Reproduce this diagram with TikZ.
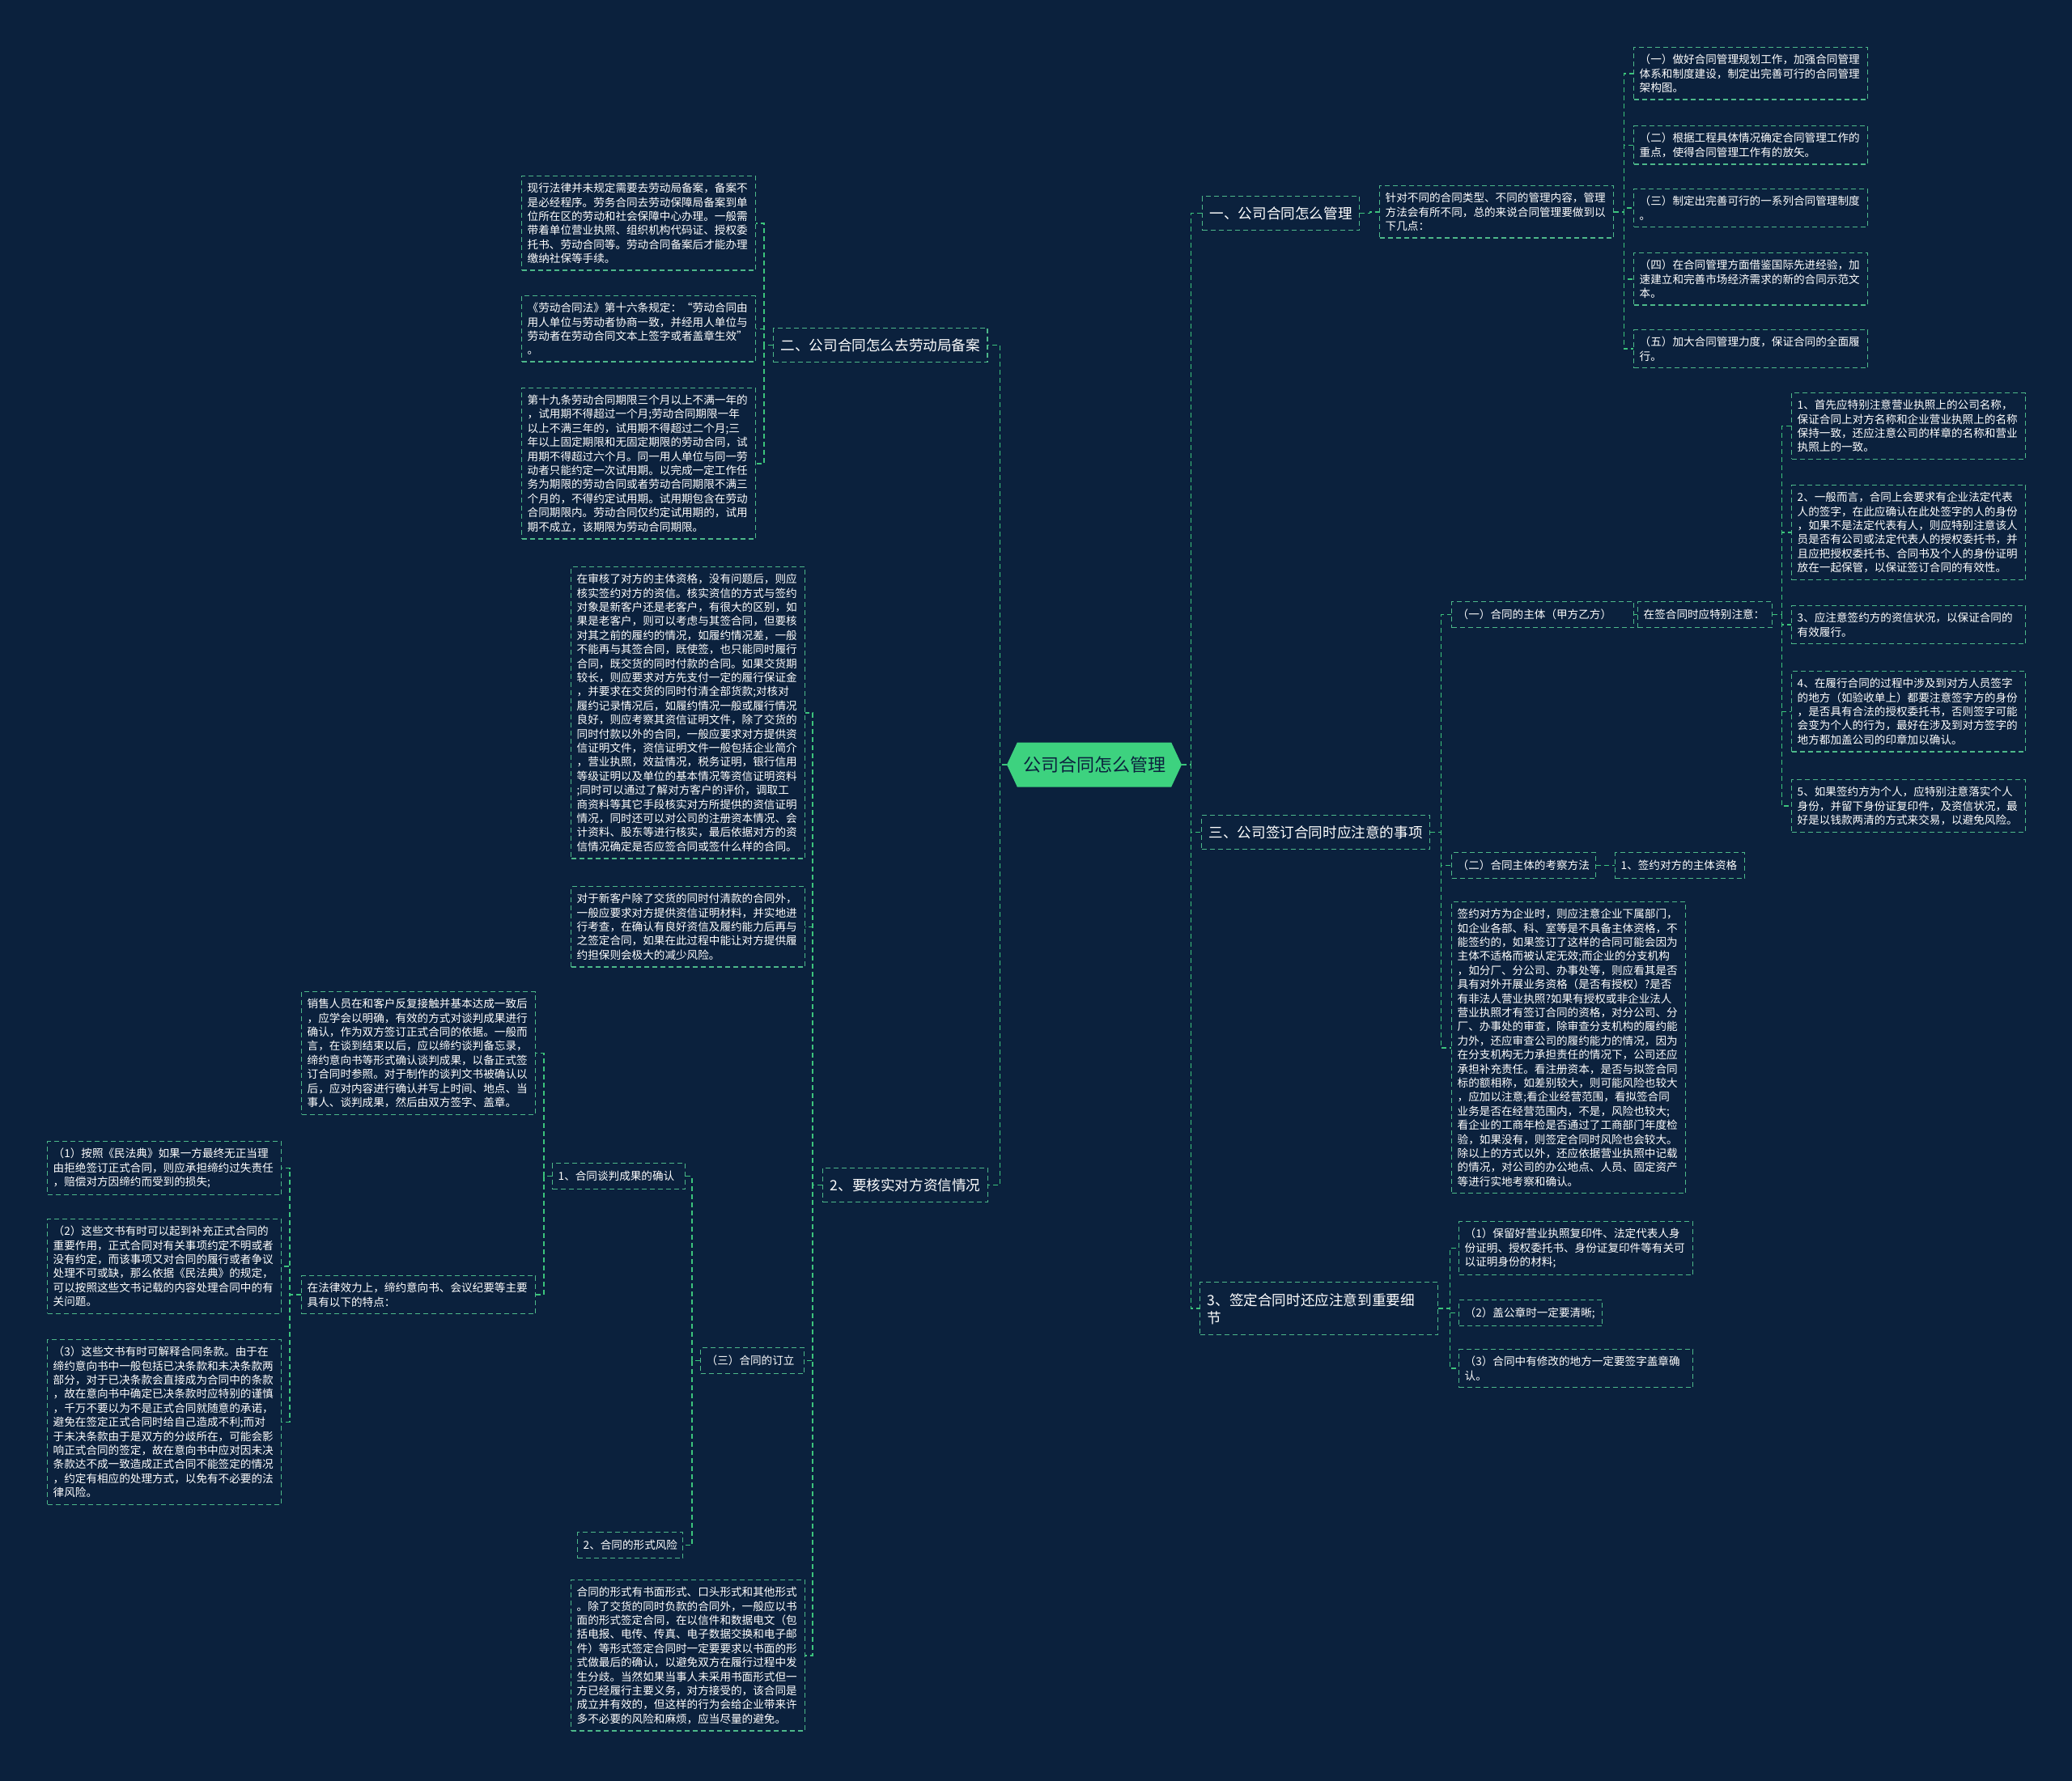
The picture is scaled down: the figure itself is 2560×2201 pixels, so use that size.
\documentclass[tikz,border=0pt]{standalone}
\usepackage{fontspec}
\setmainfont{Noto Sans CJK SC}
\usetikzlibrary{shapes.symbols}
\definecolor{bgnavy}{HTML}{0B213D}
\definecolor{linegreen}{HTML}{3CC47C}
\definecolor{boxgreen}{HTML}{4DB88A}
\definecolor{topicgreen}{HTML}{3DD27F}

\begin{document}
\begin{tikzpicture}[
    x=0.5pt, y=-0.5pt,
    link/.style={draw=linegreen, line width=0.75pt, dash pattern=on 3pt off 2pt},
    topic/.style={signal, signal to=west and east, signal pointer angle=130, fill=topicgreen, text=bgnavy, font=\fontsize{11pt}{13pt}\selectfont, minimum width=108pt, minimum height=27.5pt, inner sep=0pt},
    branch/.style={draw=boxgreen, line width=0.7pt, dash pattern=on 3pt off 2pt, text=white, font=\fontsize{8.8pt}{11pt}\selectfont, anchor=north west, inner xsep=4.5pt, minimum height=21pt, align=left},
    leaf/.style={draw=boxgreen, line width=0.7pt, dash pattern=on 3pt off 2pt, text=white, font=\fontsize{6.8pt}{8.7pt}\selectfont, anchor=north west, text width=137.5pt, align=left, inner xsep=3.5pt, inner ysep=4.2pt},
    tag/.style={draw=boxgreen, line width=0.7pt, dash pattern=on 3pt off 2pt, text=white, font=\fontsize{6.8pt}{8.7pt}\selectfont, anchor=north west, minimum height=16pt, inner xsep=3.5pt, align=left}
]
    \fill[bgnavy] (0,0) rectangle (2560,2201);
    \useasboundingbox (0,0) rectangle (2560,2201);

    \node[topic] (root) at (1352,945) {公司合同怎么管理};

    % right side
    \node[branch] (one) at (1485,242) {一、公司合同怎么管理};
    \node[leaf] (oneNote) at (1704,229) {针对不同的合同类型、不同的管理内容，管理\\方法会有所不同，总的来说合同管理要做到以\\下几点：};
    \node[leaf] (oneA) at (2018,58) {（一）做好合同管理规划工作，加强合同管理\\体系和制度建设，制定出完善可行的合同管理\\架构图。};
    \node[leaf] (oneB) at (2018,155) {（二）根据工程具体情况确定合同管理工作的\\重点，使得合同管理工作有的放矢。};
    \node[leaf] (oneC) at (2018,233) {（三）制定出完善可行的一系列合同管理制度\\。};
    \node[leaf] (oneD) at (2018,312) {（四）在合同管理方面借鉴国际先进经验，加\\速建立和完善市场经济需求的新的合同示范文\\本。};
    \node[leaf] (oneE) at (2018,407) {（五）加大合同管理力度，保证合同的全面履\\行。};

    \node[branch] (three) at (1484,1007) {三、公司签订合同时应注意的事项};
    \node[tag, text width=105.5pt] (threeA) at (1793,743) {（一）合同的主体（甲方乙方）};
    \node[tag, text width=76pt] (threeANote) at (2023,743) {在签合同时应特别注意：};
    \node[leaf] (threeA1) at (2213,485) {1、首先应特别注意营业执照上的公司名称，\\保证合同上对方名称和企业营业执照上的名称\\保持一致，还应注意公司的样章的名称和营业\\执照上的一致。};
    \node[leaf] (threeA2) at (2213,599) {2、一般而言，合同上会要求有企业法定代表\\人的签字，在此应确认在此处签字的人的身份\\，如果不是法定代表有人，则应特别注意该人\\员是否有公司或法定代表人的授权委托书，并\\且应把授权委托书、合同书及个人的身份证明\\放在一起保管，以保证签订合同的有效性。};
    \node[leaf] (threeA3) at (2213,748) {3、应注意签约方的资信状况，以保证合同的\\有效履行。};
    \node[leaf] (threeA4) at (2213,829) {4、在履行合同的过程中涉及到对方人员签字\\的地方（如验收单上）都要注意签字方的身份\\，是否具有合法的授权委托书，否则签字可能\\会变为个人的行为，最好在涉及到对方签字的\\地方都加盖公司的印章加以确认。};
    \node[leaf] (threeA5) at (2213,963) {5、如果签约方为个人，应特别注意落实个人\\身份，并留下身份证复印件，及资信状况，最\\好是以钱款两清的方式来交易，以避免风险。};
    \node[tag, text width=82pt] (threeB) at (1793,1053) {（二）合同主体的考察方法};
    \node[tag, text width=73pt] (threeB1) at (1995,1053) {1、签约对方的主体资格};
    \node[leaf] (threeC) at (1793,1114) {签约对方为企业时，则应注意企业下属部门，\\如企业各部、科、室等是不具备主体资格，不\\能签约的，如果签订了这样的合同可能会因为\\主体不适格而被认定无效;而企业的分支机构\\，如分厂、分公司、办事处等，则应看其是否\\具有对外开展业务资格（是否有授权）?是否\\有非法人营业执照?如果有授权或非企业法人\\营业执照才有签订合同的资格，对分公司、分\\厂、办事处的审查，除审查分支机构的履约能\\力外，还应审查公司的履约能力的情况，因为\\在分支机构无力承担责任的情况下，公司还应\\承担补充责任。看注册资本，是否与拟签合同\\标的额相称，如差别较大，则可能风险也较大\\，应加以注意;看企业经营范围，看拟签合同\\业务是否在经营范围内，不是，风险也较大;\\看企业的工商年检是否通过了工商部门年度检\\验，如果没有，则签定合同时风险也会较大。\\除以上的方式以外，还应依据营业执照中记载\\的情况，对公司的办公地点、人员、固定资产\\等进行实地考察和确认。};

    \node[branch, text width=138pt, minimum height=32.5pt] (four) at (1482,1584) {3、签定合同时还应注意到重要细\\节};
    \node[leaf] (fourA) at (1802,1509) {（1）保留好营业执照复印件、法定代表人身\\份证明、授权委托书、身份证复印件等有关可\\以证明身份的材料;};
    \node[tag, text width=81.5pt] (fourB) at (1802,1606) {（2）盖公章时一定要清晰;};
    \node[leaf] (fourC) at (1802,1667) {（3）合同中有修改的地方一定要签字盖章确\\认。};

    % left side
    \node[branch] (two) at (955,405) {二、公司合同怎么去劳动局备案};
    \node[leaf] (twoA) at (644,217) {现行法律并未规定需要去劳动局备案，备案不\\是必经程序。劳务合同去劳动保障局备案到单\\位所在区的劳动和社会保障中心办理。一般需\\带着单位营业执照、组织机构代码证、授权委\\托书、劳动合同等。劳动合同备案后才能办理\\缴纳社保等手续。};
    \node[leaf] (twoB) at (644,365) {《劳动合同法》第十六条规定：“劳动合同由\\用人单位与劳动者协商一致，并经用人单位与\\劳动者在劳动合同文本上签字或者盖章生效”\\。};
    \node[leaf] (twoC) at (644,479) {第十九条劳动合同期限三个月以上不满一年的\\，试用期不得超过一个月;劳动合同期限一年\\以上不满三年的，试用期不得超过二个月;三\\年以上固定期限和无固定期限的劳动合同，试\\用期不得超过六个月。同一用人单位与同一劳\\动者只能约定一次试用期。以完成一定工作任\\务为期限的劳动合同或者劳动合同期限不满三\\个月的，不得约定试用期。试用期包含在劳动\\合同期限内。劳动合同仅约定试用期的，试用\\期不成立，该期限为劳动合同期限。};

    \node[branch] (five) at (1016,1443) {2、要核实对方资信情况};
    \node[leaf] (fiveA) at (705,700) {在审核了对方的主体资格，没有问题后，则应\\核实签约对方的资信。核实资信的方式与签约\\对象是新客户还是老客户，有很大的区别，如\\果是老客户，则可以考虑与其签合同，但要核\\对其之前的履约的情况，如履约情况差，一般\\不能再与其签合同，既使签，也只能同时履行\\合同，既交货的同时付款的合同。如果交货期\\较长，则应要求对方先支付一定的履行保证金\\，并要求在交货的同时付清全部货款;对核对\\履约记录情况后，如履约情况一般或履行情况\\良好，则应考察其资信证明文件，除了交货的\\同时付款以外的合同，一般应要求对方提供资\\信证明文件，资信证明文件一般包括企业简介\\，营业执照，效益情况，税务证明，银行信用\\等级证明以及单位的基本情况等资信证明资料\\;同时可以通过了解对方客户的评价，调取工\\商资料等其它手段核实对方所提供的资信证明\\情况，同时还可以对公司的注册资本情况、会\\计资料、股东等进行核实，最后依据对方的资\\信情况确定是否应签合同或签什么样的合同。};
    \node[leaf] (fiveB) at (705,1095) {对于新客户除了交货的同时付清款的合同外，\\一般应要求对方提供资信证明材料，并实地进\\行考查，在确认有良好资信及履约能力后再与\\之签定合同，如果在此过程中能让对方提供履\\约担保则会极大的减少风险。};
    \node[tag, text width=57pt] (fiveC) at (865,1665) {（三）合同的订立};
    \node[leaf] (fiveD) at (705,1952) {合同的形式有书面形式、口头形式和其他形式\\。除了交货的同时负款的合同外，一般应以书\\面的形式签定合同，在以信件和数据电文（包\\括电报、电传、传真、电子数据交换和电子邮\\件）等形式签定合同时一定要要求以书面的形\\式做最后的确认，以避免双方在履行过程中发\\生分歧。当然如果当事人未采用书面形式但一\\方已经履行主要义务，对方接受的，该合同是\\成立并有效的，但这样的行为会给企业带来许\\多不必要的风险和麻烦，应当尽量的避免。};
    \node[tag, text width=75pt] (deal) at (682,1437) {1、合同谈判成果的确认};
    \node[tag, text width=58pt] (form) at (713,1893) {2、合同的形式风险};
    \node[leaf] (dealA) at (372,1225) {销售人员在和客户反复接触并基本达成一致后\\，应学会以明确，有效的方式对谈判成果进行\\确认，作为双方签订正式合同的依据。一般而\\言，在谈到结束以后，应以缔约谈判备忘录，\\缔约意向书等形式确认谈判成果，以备正式签\\订合同时参照。对于制作的谈判文书被确认以\\后，应对内容进行确认并写上时间、地点、当\\事人、谈判成果，然后由双方签字、盖章。};
    \node[leaf] (dealB) at (372,1576) {在法律效力上，缔约意向书、会议纪要等主要\\具有以下的特点：};
    \node[leaf] (law1) at (58,1410) {（1）按照《民法典》如果一方最终无正当理\\由拒绝签订正式合同，则应承担缔约过失责任\\，赔偿对方因缔约而受到的损失;};
    \node[leaf] (law2) at (58,1506) {（2）这些文书有时可以起到补充正式合同的\\重要作用，正式合同对有关事项约定不明或者\\没有约定，而该事项又对合同的履行或者争议\\处理不可或缺，那么依据《民法典》的规定，\\可以按照这些文书记载的内容处理合同中的有\\关问题。};
    \node[leaf] (law3) at (58,1655) {（3）这些文书有时可解释合同条款。由于在\\缔约意向书中一般包括已决条款和未决条款两\\部分，对于已决条款会直接成为合同中的条款\\，故在意向书中确定已决条款时应特别的谨慎\\，千万不要以为不是正式合同就随意的承诺，\\避免在签定正式合同时给自己造成不利;而对\\于未决条款由于是双方的分歧所在，可能会影\\响正式合同的签定，故在意向书中应对因未决\\条款达不成一致造成正式合同不能签定的情况\\，约定有相应的处理方式，以免有不必要的法\\律风险。};

    % links right
    \foreach \c in {one, three, four}
        \draw[link] (root.east) -- ++(11,0) |- (\c.west);
    \draw[link] (one.east) -- ++(12,0) |- (oneNote.west);
    \foreach \c in {oneA, oneB, oneC, oneD, oneE}
        \draw[link] (oneNote.east) -- ++(12,0) |- (\c.west);
    \foreach \c in {threeA, threeB, threeC}
        \draw[link] (three.east) -- ++(13,0) |- (\c.west);
    \draw[link] (threeA.east) -- (threeANote.west);
    \foreach \c in {threeA1, threeA2, threeA3, threeA4, threeA5}
        \draw[link] (threeANote.east) -- ++(11,0) |- (\c.west);
    \draw[link] (threeB.east) -- (threeB1.west);
    \foreach \c in {fourA, fourB, fourC}
        \draw[link] (four.east) -- ++(14,0) |- (\c.west);

    % links left
    \foreach \c in {two, five}
        \draw[link] (root.west) -- ++(-8,0) |- (\c.east);
    \foreach \c in {twoA, twoB, twoC}
        \draw[link] (two.west) -- ++(-11,0) |- (\c.east);
    \foreach \c in {fiveA, fiveB, fiveC, fiveD}
        \draw[link] (five.west) -- ++(-12,0) |- (\c.east);
    \foreach \c in {deal, form}
        \draw[link] (fiveC.west) -- ++(-10,0) |- (\c.east);
    \foreach \c in {dealA, dealB}
        \draw[link] (deal.west) -- ++(-10,0) |- (\c.east);
    \foreach \c in {law1, law2, law3}
        \draw[link] (dealB.west) -- ++(-14,0) |- (\c.east);
\end{tikzpicture}
\end{document}
